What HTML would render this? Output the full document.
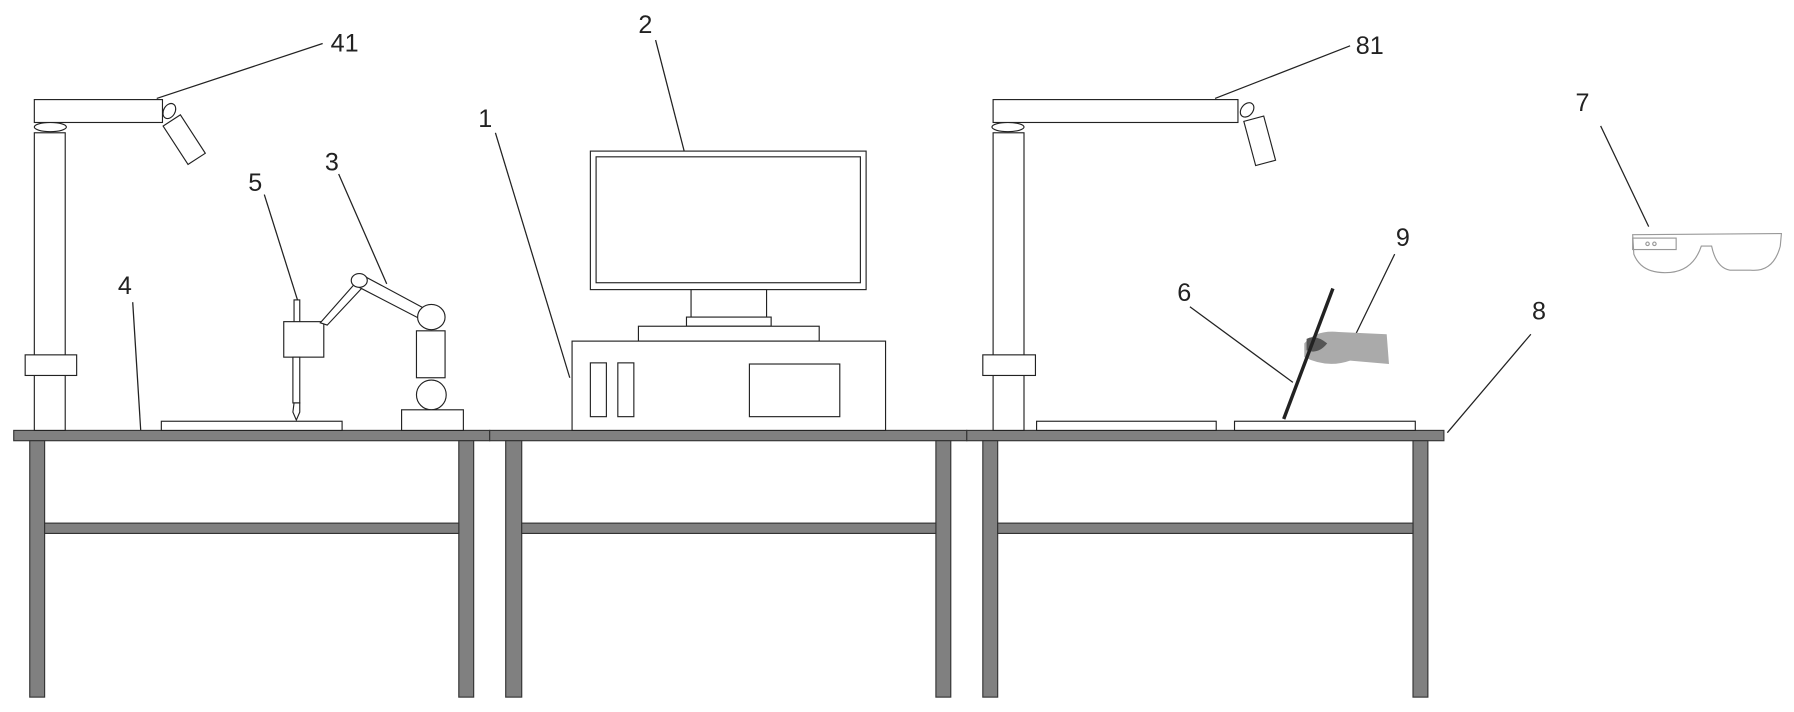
<!DOCTYPE html>
<html><head><style>html,body{margin:0;padding:0;background:#fff;}svg{display:block}</style></head>
<body>
<svg width="1794" height="712" viewBox="0 0 1568 622" preserveAspectRatio="none" xmlns="http://www.w3.org/2000/svg">
<g font-family="Liberation Sans, sans-serif" font-size="22" fill="#222">
<text x="289" y="45">41</text><text x="217" y="167">5</text><text x="284" y="149">3</text>
<text x="103" y="257">4</text><text x="418" y="111">1</text><text x="558" y="29">2</text>
<text x="1185" y="47">81</text><text x="1220" y="215">9</text><text x="1029" y="263">6</text>
<text x="1339" y="279">8</text><text x="1377" y="97">7</text>
</g>
<g stroke="#222" stroke-width="1.1" fill="none">
<line x1="137" y1="86" x2="282" y2="38"/><line x1="231" y1="170" x2="260" y2="262"/>
<line x1="296" y1="152" x2="338" y2="248"/><line x1="116" y1="264" x2="123" y2="376"/>
<line x1="433" y1="116" x2="498" y2="330"/><line x1="573" y1="35" x2="598" y2="132"/>
<line x1="1062" y1="86" x2="1180" y2="40"/><line x1="1219" y1="222" x2="1182" y2="298"/>
<line x1="1040" y1="268" x2="1130" y2="334"/><line x1="1338" y1="292" x2="1265" y2="378"/>
<line x1="1399" y1="110" x2="1441" y2="198"/>
</g>
<g fill="#808080" stroke="#333" stroke-width="1">
<rect x="12" y="376" width="416" height="9"/><rect x="428" y="376" width="417" height="9"/><rect x="845" y="376" width="417" height="9"/>
<rect x="26" y="385" width="13" height="224"/><rect x="401" y="385" width="13" height="224"/><rect x="39" y="457" width="362" height="9"/>
<rect x="442" y="385" width="14" height="224"/><rect x="818" y="385" width="13" height="224"/><rect x="456" y="457" width="362" height="9"/>
<rect x="859" y="385" width="13" height="224"/><rect x="1235" y="385" width="13" height="224"/><rect x="872" y="457" width="363" height="9"/>
</g>
<g fill="#fff" stroke="#222" stroke-width="1">
<rect x="30" y="116" width="27" height="260"/><ellipse cx="44" cy="111" rx="14" ry="4"/>
<rect x="30" y="87" width="112" height="20"/><rect x="22" y="310" width="45" height="18"/>
<ellipse cx="148" cy="97" rx="5" ry="7" transform="rotate(30 148 97)"/>
<rect x="152" y="102" width="18" height="40" transform="rotate(-33 161 122)"/>
<rect x="141" y="368" width="158" height="8"/>
<rect x="257" y="262" width="5" height="20"/><rect x="248" y="281" width="35" height="31"/>
<rect x="256" y="312" width="6" height="40"/><path d="M257 352 L262 352 L262 360 L259 367 L256 360Z"/>
<path d="M280 282 L310 248 L316 252 L286 284Z"/>
<path d="M316 240 L372 270 L368 279 L312 250Z"/>
<ellipse cx="314" cy="245" rx="7" ry="6"/>
<ellipse cx="377" cy="277" rx="12" ry="11"/><rect x="364" y="289" width="25" height="41"/>
<ellipse cx="377" cy="345" rx="13" ry="13"/><rect x="351" y="358" width="54" height="18"/>
<rect x="516" y="132" width="241" height="121"/><rect x="521" y="137" width="231" height="110"/>
<rect x="604" y="253" width="66" height="24"/><rect x="600" y="277" width="74" height="8"/>
<rect x="558" y="285" width="158" height="13"/>
<rect x="500" y="298" width="274" height="78"/>
<rect x="516" y="317" width="14" height="47"/><rect x="540" y="317" width="14" height="47"/>
<rect x="655" y="318" width="79" height="46"/>
<rect x="868" y="116" width="27" height="260"/><ellipse cx="881" cy="111" rx="14" ry="4"/>
<rect x="868" y="87" width="214" height="20"/><rect x="859" y="310" width="46" height="18"/>
<ellipse cx="1090" cy="96" rx="5" ry="7" transform="rotate(40 1090 96)"/>
<rect x="1092" y="103" width="18" height="40" transform="rotate(-15 1101 123)"/>
<rect x="906" y="368" width="157" height="8"/><rect x="1079" y="368" width="158" height="8"/>
</g>
<path d="M1140 300 Q1150 288 1170 290 L1212 292 L1214 318 L1180 315 Q1160 322 1140 312Z" fill="#aaa"/>
<path d="M1142 296 Q1150 292 1160 300 Q1152 310 1142 306Z" fill="#555"/>
<line x1="1122" y1="366" x2="1165" y2="252" stroke="#222" stroke-width="3"/>
<g fill="none" stroke="#999" stroke-width="1">
<path d="M1427 205 L1557 204 L1556 215 Q1550 238 1530 236 L1512 236 Q1500 234 1496 215 L1487 215 Q1480 236 1460 238 Q1435 240 1428 222Z"/>
<rect x="1427" y="208" width="38" height="10"/>
<circle cx="1440" cy="213" r="1.5"/><circle cx="1446" cy="213" r="1.5"/>
</g>
</svg>
</body></html>
